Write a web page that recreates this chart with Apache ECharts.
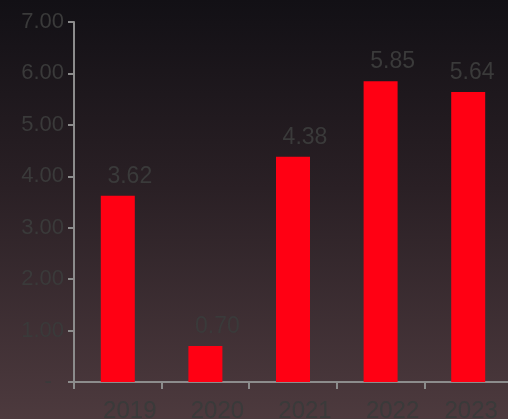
<!DOCTYPE html>
<html>
<head>
<meta charset="utf-8">
<script src="https://cdn.jsdelivr.net/npm/echarts@6/dist/echarts.min.js"></script>
<style>
  html, body { margin: 0; padding: 0; }
  #main {
    width: 508px; height: 419px;
    background: linear-gradient(to bottom, #121015 0%, #2a2025 45%, #4d3a3e 100%);
  }
</style>
</head>
<body>
<div id="main"></div>
<script>
const years = ["2019", "2020", "2021", "2022", "2023"];
const values = [3.62, 0.70, 4.38, 5.85, 5.64];
const yTicks = [0, 1, 2, 3, 4, 5, 6, 7];

let myChart = echarts.init(document.getElementById("main"));

const textColor = "#3a3a3a";
const axisColor = "#8c8c8c";
const font = "Liberation Sans, Arial, sans-serif";
const last = years.length - 1;

let option = {
  animation: false,
  grid: {
    left: 74,
    right: -4,
    top: 22,
    bottom: 37,
    containLabel: false,
    outerBoundsMode: "none"
  },
  xAxis: {
    type: "category",
    data: years.map((y, i) =>
      i === last ? { value: y, textStyle: { padding: [0, 0, 0, 6] } } : y
    ),
    axisLine: { onZero: false, lineStyle: { color: axisColor, width: 2 } },
    axisTick: { show: true, length: 7, lineStyle: { color: axisColor, width: 2 } },
    axisLabel: {
      color: textColor,
      fontSize: 24,
      fontFamily: font,
      margin: 17,
      padding: [0, 0, 0, 24],
      hideOverlap: false
    }
  },
  yAxis: {
    type: "value",
    min: yTicks[0],
    max: yTicks[yTicks.length - 1],
    interval: 1,
    splitLine: { show: false },
    axisLine: { show: true, onZero: false, lineStyle: { color: axisColor, width: 2 } },
    axisTick: { show: true, length: 6, lineStyle: { color: axisColor, width: 2 } },
    axisLabel: {
      color: textColor,
      fontSize: 22,
      fontFamily: font,
      margin: 10,
      showMinLabel: true,
      hideOverlap: false,
      // zero shows as an accounting dash, set back from the other labels
      formatter: function (v) {
        return v === 0 ? "-  " : v.toFixed(2);
      }
    }
  },
  series: [
    {
      type: "bar",
      barWidth: 34,
      itemStyle: { color: "#ff0013" },
      label: {
        show: true,
        position: "top",
        distance: 8,
        offset: [12, 0],
        color: textColor,
        fontSize: 23,
        fontFamily: font,
        formatter: p => p.value.toFixed(2)
      },
      data: values.map((v, i) =>
        i === last ? { value: v, label: { offset: [4, 0] } } : v
      )
    }
  ]
};
myChart.setOption(option);
</script>
</body>
</html>
